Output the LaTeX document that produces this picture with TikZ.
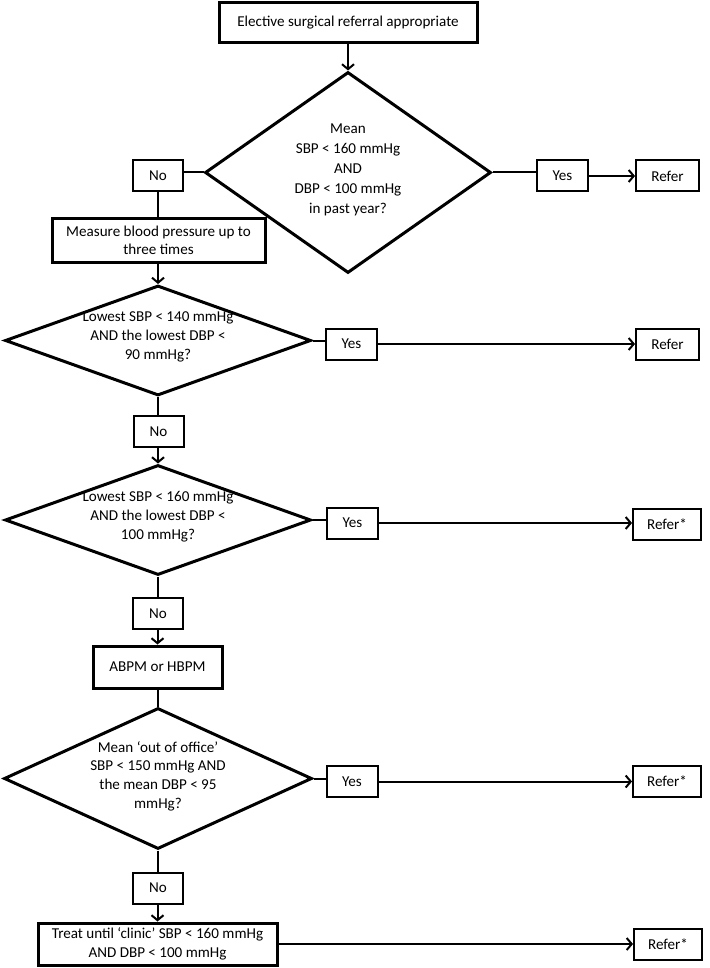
\documentclass[tikz,border=0pt]{standalone}
\usepackage{fontspec}
\setmainfont{Carlito}
\usetikzlibrary{shapes.geometric,arrows.meta}
\tikzset{
  every node/.style={font=\fontsize{15.1}{18.5}\selectfont, align=center},
  smallbox/.style={draw, line width=2pt, inner sep=0pt, minimum height=31pt},
  bigbox/.style={draw, line width=3pt, inner sep=0pt},
  dia/.style={draw, diamond, line width=3pt, inner sep=0pt},
  diatext/.style={inner sep=0pt},
  conn/.style={line width=2pt},
  arr/.style={line width=2pt, -{Straight Barb[length=5pt,width=12pt]}}
}
\begin{document}
\begin{tikzpicture}[x=1pt,y=-1pt]
\useasboundingbox (0,0) rectangle (709,968);

% top
\node[bigbox, minimum width=258pt, minimum height=40pt] (top) at (348,23) {Elective surgical referral appropriate};

% diamond 1
\node[dia, minimum width=286pt, minimum height=201pt] (d1) at (348,172.5) {};
\node[diatext, font=\fontsize{15.1}{20}\selectfont] (d1t) at (348,170) {Mean\\SBP < 160 mmHg\\AND\\DBP < 100 mmHg\\in past year?};
\node[smallbox, minimum width=50pt] (no1) at (158,175.5) {No};
\node[smallbox, minimum width=51pt] (yes1) at (562.5,176) {Yes};
\node[smallbox, minimum width=63pt] (ref1) at (667.5,176) {Refer};

% measure
\node[bigbox, minimum width=213pt, minimum height=43pt] (meas) at (158.5,240.5) {Measure blood pressure up to\\three times};

% diamond 2
\node[dia, minimum width=306pt, minimum height=110pt] (d2) at (158,340.5) {};
\node[diatext, font=\fontsize{15.1}{19}\selectfont] (d2t) at (158,337) {Lowest SBP < 140 mmHg\\AND the lowest DBP <\\90 mmHg?};
\node[smallbox, minimum width=51pt] (yes2) at (351.5,344) {Yes};
\node[smallbox, minimum width=63pt] (ref2) at (667.5,344) {Refer};
\node[smallbox, minimum width=50pt] (no2) at (158.5,431.5) {No};

% diamond 3
\node[dia, minimum width=306pt, minimum height=110pt] (d3) at (158,520) {};
\node[diatext, font=\fontsize{15.1}{19}\selectfont] (d3t) at (158,517) {Lowest SBP < 160 mmHg\\AND the lowest DBP <\\100 mmHg?};
\node[smallbox, minimum width=51pt] (yes3) at (352.5,523) {Yes};
\node[smallbox, minimum width=68pt] (ref3) at (667,524) {Refer*};
\node[smallbox, minimum width=50pt] (no3) at (158,613.5) {No};

% ABPM
\node[bigbox, minimum width=129pt, minimum height=42pt] (abpm) at (157.5,667) {ABPM or HBPM};

% diamond 4
\node[dia, minimum width=308pt, minimum height=141pt] (d4) at (158,778.5) {};
\node[diatext, font=\fontsize{15.1}{18.7}\selectfont] (d4t) at (158,776) {Mean ‘out of office’\\SBP < 150 mmHg AND\\the mean DBP < 95\\mmHg?};
\node[smallbox, minimum width=51pt] (yes4) at (352,781.5) {Yes};
\node[smallbox, minimum width=68pt] (ref4) at (667,781) {Refer*};
\node[smallbox, minimum width=50pt] (no4) at (158,888) {No};

% treat
\node[bigbox, minimum width=239pt, minimum height=42pt] (treat) at (157.5,944) {Treat until ‘clinic’ SBP < 160 mmHg\\AND DBP < 100 mmHg};
\node[smallbox, minimum width=68pt] (ref5) at (668,944) {Refer*};

% connectors
\draw[arr] (top.south) -- (d1.north);
\draw[conn] (d1.west) -- (d1.west -| no1.east);
\draw[conn] (d1.east) -- (d1.east -| yes1.west);
\draw[arr] (yes1.east) -- (ref1.west);
\draw[conn] (no1.south) -- (no1.south |- meas.north);
\draw[arr] (meas.south -| d2.north) -- (d2.north);
\draw[conn] (d2.east) -- (d2.east -| yes2.west);
\draw[arr] (yes2.east) -- (ref2.west);
\draw[conn] (d2.south) -- (no2.north -| d2.south);
\draw[arr] (no2.south -| d3.north) -- (d3.north);
\draw[conn] (d3.east) -- (d3.east -| yes3.west);
\draw[arr] (yes3.east) -- (yes3.east -| ref3.west);
\draw[conn] (d3.south) -- (no3.north -| d3.south);
\draw[arr] (no3.south -| abpm.north) -- (abpm.north);
\draw[conn] (abpm.south -| d4.north) -- (d4.north);
\draw[conn] (d4.east) -- (d4.east -| yes4.west);
\draw[arr] (yes4.east) -- (yes4.east -| ref4.west);
\draw[conn] (d4.south) -- (no4.north -| d4.south);
\draw[arr] (no4.south -| treat.north) -- (treat.north);
\draw[arr] (treat.east) -- (ref5.west);
\end{tikzpicture}
\end{document}
